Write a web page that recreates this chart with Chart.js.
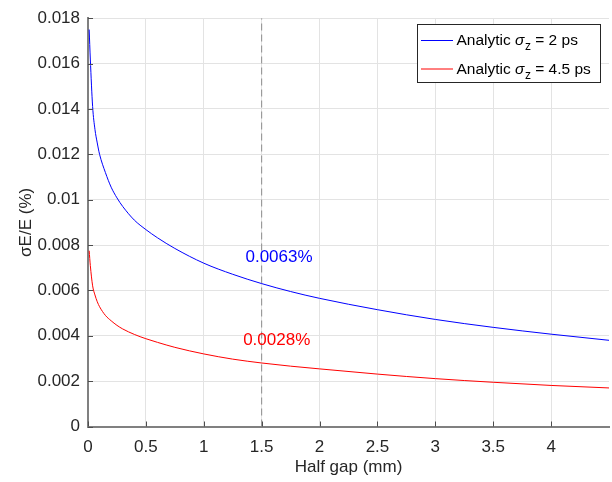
<!DOCTYPE html>
<html>
<head>
<meta charset="utf-8">
<script src="https://cdn.jsdelivr.net/npm/chart.js@4/dist/chart.umd.min.js"></script>
<style>
  html, body { margin: 0; padding: 0; background: #ffffff; }
  #wrap { width: 612px; height: 482px; }
</style>
</head>
<body>
<div id="wrap"><canvas id="c" width="612" height="482"></canvas></div>
<script>
// Half gap (mm) sample positions
const halfGap = [0.01, 0.02, 0.04, 0.06, 0.08, 0.1, 0.15, 0.2, 0.25, 0.3, 0.4, 0.5, 0.6, 0.75,
                 1.0, 1.25, 1.5, 1.75, 2.0, 2.5, 3.0, 3.5, 4.0, 4.5];
// Energy spread sigmaE/E (%) for a 2 ps bunch
const spread2ps = [0.0175, 0.0162, 0.0141, 0.0131, 0.0125, 0.0120, 0.0112, 0.01055, 0.01008, 0.0097,
                   0.0091, 0.00868, 0.00832, 0.00785, 0.0072, 0.00671, 0.0063, 0.00595, 0.00565, 0.00515,
                   0.00472, 0.00437, 0.00407, 0.0038];
// Energy spread sigmaE/E (%) for a 4.5 ps bunch
const spread45ps = [0.00775, 0.0071, 0.0062, 0.0058, 0.0055, 0.00528, 0.0049, 0.00466, 0.00446, 0.0043,
                    0.00406, 0.00387, 0.00371, 0.00349, 0.0032, 0.00297, 0.0028, 0.00266, 0.00254, 0.00231,
                    0.00211, 0.00195, 0.00181, 0.0017];
const seriesLabels = ['2 ps', '4.5 ps'];
const markedGap = 1.5;
const xTicks = [0, 0.5, 1, 1.5, 2, 2.5, 3, 3.5, 4];
const yTicks = [0, 0.002, 0.004, 0.006, 0.008, 0.01, 0.012, 0.014, 0.016, 0.018];
const xLimits = [0, 4.5];
const yLimits = [0, 0.018];

const BLUE = '#0000ff';
const RED = '#ff0000';
const FONT = '"Liberation Sans", Arial, Helvetica, sans-serif';

const toPoints = (xs, ys) => xs.map((x, i) => ({ x: x, y: ys[i] }));
const valueAt = (ys) => ys[halfGap.indexOf(markedGap)];

// Inward tick marks, value labels and the boxed legend with subscripts
const decorations = {
  id: 'decorations',
  afterDatasetsDraw(chart) {
    const { ctx, chartArea: a, scales: { x, y } } = chart;
    ctx.save();
    ctx.strokeStyle = '#4d4d4d';
    ctx.lineWidth = 1;
    ctx.beginPath();
    yTicks.forEach(v => {
      const py = Math.round(y.getPixelForValue(v)) + 0.5;
      ctx.moveTo(a.left, py); ctx.lineTo(a.left + 5, py);
    });
    xTicks.forEach(v => {
      const px = Math.round(x.getPixelForValue(v)) + 0.5;
      ctx.moveTo(px, a.bottom); ctx.lineTo(px, a.bottom - 5);
    });
    ctx.stroke();

    // value labels next to the dashed marker
    ctx.font = '17px ' + FONT;
    ctx.textAlign = 'left';
    ctx.textBaseline = 'middle';
    const labels = [
      { v: valueAt(spread2ps), color: BLUE, at: [1.36, 0.00745] },
      { v: valueAt(spread45ps), color: RED, at: [1.34, 0.00382] }
    ];
    labels.forEach(l => {
      ctx.fillStyle = l.color;
      ctx.fillText(l.v + '%', x.getPixelForValue(l.at[0]), y.getPixelForValue(l.at[1]));
    });

    // legend
    const box = { left: 417.5, top: 24.5, width: 183, height: 58 };
    ctx.fillStyle = '#ffffff';
    ctx.fillRect(box.left, box.top, box.width, box.height);
    ctx.strokeStyle = '#262626';
    ctx.lineWidth = 1;
    ctx.strokeRect(box.left, box.top, box.width, box.height);
    const rows = [
      { color: BLUE, label: seriesLabels[0], cy: 39.5 },
      { color: RED, label: seriesLabels[1], cy: 68 }
    ];
    rows.forEach(r => {
      ctx.strokeStyle = r.color;
      ctx.beginPath();
      ctx.moveTo(421, r.cy + 1); ctx.lineTo(453, r.cy + 1);
      ctx.stroke();
      ctx.fillStyle = '#000000';
      ctx.textBaseline = 'alphabetic';
      let tx = 456.5;
      const base = r.cy + 5.5;
      ctx.font = '15.5px ' + FONT;
      ctx.fillText('Analytic ', tx, base);
      tx += ctx.measureText('Analytic ').width;
      ctx.font = 'italic 15.5px ' + FONT;
      ctx.fillText('σ', tx, base);
      tx += ctx.measureText('σ').width + 0.5;
      ctx.font = '12px ' + FONT;
      ctx.fillText('z', tx, base + 5);
      tx += ctx.measureText('z').width;
      ctx.font = '15.5px ' + FONT;
      ctx.fillText(' = ' + r.label, tx, base);
    });
    ctx.restore();
  }
};

new Chart(document.getElementById('c'), {
  type: 'scatter',
  data: {
    datasets: [
      {
        label: 'marker',
        data: [{ x: markedGap, y: yLimits[0] }, { x: markedGap, y: yLimits[1] }],
        showLine: true,
        borderColor: '#8c8c8c',
        borderWidth: 1,
        borderDash: [7, 4],
        pointRadius: 0,
        order: 3
      },
      {
        label: 'Analytic σz = ' + seriesLabels[0],
        data: toPoints(halfGap, spread2ps),
        showLine: true,
        borderColor: BLUE,
        borderWidth: 1,
        pointRadius: 0,
        cubicInterpolationMode: 'monotone',
        order: 1
      },
      {
        label: 'Analytic σz = ' + seriesLabels[1],
        data: toPoints(halfGap, spread45ps),
        showLine: true,
        borderColor: RED,
        borderWidth: 1,
        pointRadius: 0,
        cubicInterpolationMode: 'monotone',
        order: 2
      }
    ]
  },
  options: {
    responsive: false,
    animation: false,
    devicePixelRatio: 1,
    layout: { padding: { top: 16, right: 3, left: 0, bottom: 0 } },
    plugins: { legend: { display: false }, tooltip: { enabled: false } },
    scales: {
      x: {
        type: 'linear',
        min: xLimits[0],
        max: xLimits[1],
        afterBuildTicks: s => { s.ticks = xTicks.map(v => ({ value: v })); },
        afterFit: s => { s.height = 55.5; },
        grid: { color: '#e3e3e3', lineWidth: 1, drawTicks: false },
        border: { color: '#808080', width: 2 },
        ticks: {
          color: '#262626',
          font: { family: FONT, size: 17 },
          padding: 11,
          maxRotation: 0,
          callback: v => String(v)
        },
        title: {
          display: true,
          text: 'Half gap (mm)',
          color: '#262626',
          font: { family: FONT, size: 17 },
          padding: { top: 0, bottom: 4 }
        }
      },
      y: {
        type: 'linear',
        min: yLimits[0],
        max: yLimits[1],
        afterBuildTicks: s => { s.ticks = yTicks.map(v => ({ value: v })); },
        afterFit: s => { s.width = 88; },
        grid: { color: '#e3e3e3', lineWidth: 1, drawTicks: false },
        border: { color: '#808080', width: 2 },
        ticks: {
          color: '#262626',
          font: { family: FONT, size: 17 },
          padding: 8,
          callback: v => String(v)
        },
        title: {
          display: true,
          text: 'σE/E (%)',
          color: '#262626',
          font: { family: FONT, size: 17 },
          padding: { top: 16, bottom: 0 }
        }
      }
    }
  },
  plugins: [decorations]
});
</script>
</body>
</html>
